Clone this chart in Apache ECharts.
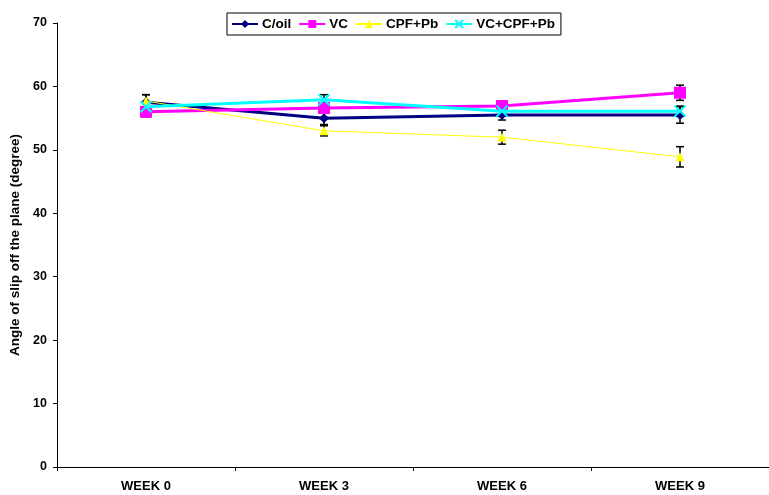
<!DOCTYPE html>
<html><head><meta charset="utf-8">
<script src="https://cdn.jsdelivr.net/npm/echarts@6/dist/echarts.min.js"></script>
<style>html,body{margin:0;padding:0;background:#fff}#c{width:769px;height:495px}</style>
</head><body><div id="c"></div>
<script>
var categories = ['WEEK 0', 'WEEK 3', 'WEEK 6', 'WEEK 9'];
var seriesNames = ['C/oil', 'VC', 'CPF+Pb', 'VC+CPF+Pb'];
var cOil = [57.5, 55.0, 55.5, 55.5];
var cOilErr = [1.2, 1.0, 0.8, 1.3];
var vc = [56.0, 56.6, 56.9, 59.0];
var vcErr = [0.8, 0.8, 0.8, 1.2];
var cpfPb = [57.7, 53.0, 52.0, 48.9];
var cpfPbErr = [1.0, 0.8, 1.1, 1.6];
var vcCpfPb = [56.8, 57.9, 56.1, 56.1];
var vcCpfPbErr = [0.8, 0.8, 0.8, 0.8];
var yTicks = [0, 10, 20, 30, 40, 50, 60, 70];

var font = 'Liberation Sans, Arial, sans-serif';
var colors = ['#000080', '#FF00FF', '#FFFF00', '#00FFFF'];
var values = [cOil, vc, cpfPb, vcCpfPb];
var errs = [cOilErr, vcErr, cpfPbErr, vcCpfPbErr];
var symbols = ['diamond', 'rect', 'triangle', 'path://M0,0L10,10M10,0L0,10'];
var symSizes = [10, 12, 9, 11];
var widths = [3, 3, 1, 3];

var series = [];
values.forEach(function (vals, s) {
  var isX = s === 3;
  series.push({
    name: seriesNames[s], type: 'line', data: vals, z: 3 + s,
    symbol: symbols[s], symbolSize: symSizes[s],
    lineStyle: { color: colors[s], width: widths[s] },
    itemStyle: isX ? { color: 'rgba(0,0,0,0)', borderColor: colors[s], borderWidth: 2 } : { color: colors[s], borderWidth: 0 },
    emphasis: { disabled: true }, animation: false
  });
  series.push({
    type: 'custom', z: 2, silent: true, animation: false,
    data: vals.map(function (v, i) { return [i, v - errs[s][i], v + errs[s][i]]; }),
    renderItem: function (params, api) {
      var lo = api.coord([api.value(0), api.value(1)]);
      var hi = api.coord([api.value(0), api.value(2)]);
      var x = lo[0], w = 4;
      var st = { stroke: '#000', lineWidth: 1.5 };
      return { type: 'group', children: [
        { type: 'line', shape: { x1: x, y1: lo[1], x2: x, y2: hi[1] }, style: st },
        { type: 'line', shape: { x1: x - w, y1: lo[1], x2: x + w, y2: lo[1] }, style: st },
        { type: 'line', shape: { x1: x - w, y1: hi[1], x2: x + w, y2: hi[1] }, style: st }
      ]};
    }
  });
});

var chart = echarts.init(document.getElementById('c'));
chart.setOption({
  animation: false,
  backgroundColor: '#fff',
  grid: { left: 57, right: -4, top: 23, bottom: 28, containLabel: false },
  legend: {
    data: seriesNames,
    top: 13, left: 227, itemWidth: 26, itemHeight: 10, itemGap: 7,
    padding: [4, 6, 4, 4], borderColor: '#000', borderWidth: 1,
    textStyle: { fontFamily: font, fontWeight: 'bold', fontSize: 13.5, color: '#000', padding: [0, 0, 0, -1] }
  },
  xAxis: {
    type: 'category', data: categories, boundaryGap: true,
    axisLine: { lineStyle: { color: '#000', width: 1 } },
    axisTick: { show: true, length: 4, lineStyle: { color: '#000' } },
    axisLabel: { fontFamily: font, fontWeight: 'bold', fontSize: 13, color: '#000', margin: 13 },
    splitLine: { show: false }
  },
  yAxis: {
    type: 'value', min: 0, max: 70, interval: 10,
    name: 'Angle of slip off the plane (degree)', nameLocation: 'middle', nameGap: 30, nameRotate: 90,
    nameTextStyle: { fontFamily: font, fontWeight: 'bold', fontSize: 13.5, color: '#000' },
    axisLine: { show: true, lineStyle: { color: '#000', width: 1 } },
    axisTick: { show: true, length: 4, lineStyle: { color: '#000' } },
    axisLabel: { fontFamily: font, fontWeight: 'bold', fontSize: 12.5, color: '#000', margin: 10,
      formatter: function (v) { return yTicks.indexOf(v) >= 0 ? String(v) : ''; } },
    splitLine: { show: false }
  },
  series: series
});
</script></body></html>
